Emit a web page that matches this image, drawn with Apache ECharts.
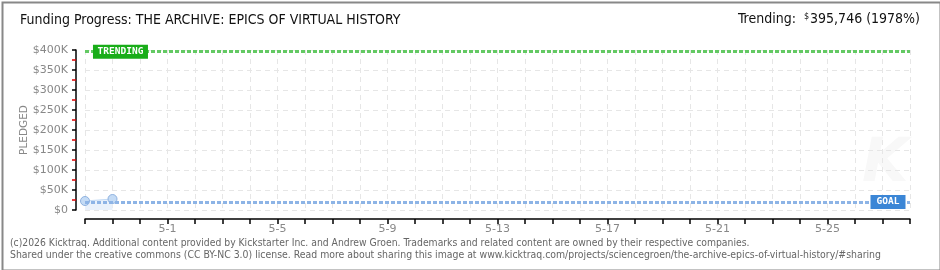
<!DOCTYPE html>
<html>
<head>
<meta charset="utf-8">
<script src="https://cdn.jsdelivr.net/npm/echarts@6/dist/echarts.min.js"></script>
<style>
html,body{margin:0;padding:0;background:#fff;}
#chart{width:940px;height:270px;}
</style>
</head>
<body>
<div id="chart"></div>
<script>
const categories = ['4-28','4-29','4-30','5-1','5-2','5-3','5-4','5-5','5-6','5-7','5-8','5-9','5-10','5-11','5-12','5-13','5-14','5-15','5-16','5-17','5-18','5-19','5-20','5-21','5-22','5-23','5-24','5-25','5-26','5-27','5-28'];
const labeledDays = ['5-1','5-5','5-9','5-13','5-17','5-21','5-25'];
const pledged = [22500, 27500];
const goal = 20000;
const trending = 395746;
const titleText = 'Funding Progress: THE ARCHIVE: EPICS OF VIRTUAL HISTORY';
const footer1 = '(c)2026 Kicktraq. Additional content provided by Kickstarter Inc. and Andrew Groen. Trademarks and related content are owned by their respective companies.';
const footer2 = 'Shared under the creative commons (CC BY-NC 3.0) license. Read more about sharing this image at www.kicktraq.com/projects/sciencegroen/the-archive-epics-of-virtual-history/#sharing';

const chart = echarts.init(document.getElementById('chart'), null, {renderer:'canvas'});
const pct = Math.floor(trending / goal * 100);
const fmtMoney = v => v.toLocaleString('en-US');
const COND = '"DejaVu Sans Condensed", "DejaVu Sans", sans-serif';

chart.setOption({
  animation: false,
  backgroundColor: '#fff',
  grid: {left: 85, right: 30, top: 50, bottom: 60, containLabel: false},
  xAxis: {
    type: 'value', min: 0, max: categories.length - 1, interval: 1,
    offset: 9,
    axisLine: {show: true, onZero: false, lineStyle: {color: '#000', width: 1.5}},
    axisTick: {show: true, length: 5, lineStyle: {color: '#000', width: 1.5}},
    axisLabel: {
      margin: 5, color: '#888', fontSize: 11, fontFamily: 'DejaVu Sans',
      formatter: v => labeledDays.includes(categories[v]) ? categories[v] : ''
    },
    splitLine: {show: true, lineStyle: {color: '#e6e6e6', type: [5, 4], width: 1}}
  },
  yAxis: {
    type: 'value', min: 0, max: 400000, interval: 50000,
    offset: 9,
    name: 'PLEDGED', nameLocation: 'middle', nameGap: 46, nameRotate: 90,
    nameMoveOverlap: false,
    nameTextStyle: {color: '#888', fontSize: 10.5, fontFamily: 'DejaVu Sans'},
    axisLine: {show: true, onZero: false, lineStyle: {color: '#000', width: 1.5}},
    axisTick: {show: true, length: 4, lineStyle: {color: '#000', width: 1.5}},
    minorTick: {show: true, splitNumber: 2, length: 4, lineStyle: {color: '#d00', width: 1.5}},
    axisLabel: {
      margin: 8, color: '#888', fontSize: 11, fontFamily: 'DejaVu Sans',
      formatter: v => v === 0 ? '$0' : '$' + (v / 1000) + 'K'
    },
    splitLine: {show: true, lineStyle: {color: '#e6e6e6', type: [5, 4], width: 1}}
  },
  series: [
    {
      type: 'line', data: [], z: 1,
      markLine: {
        silent: true, symbol: 'none', animation: false,
        label: {show: false},
        data: [
          {yAxis: goal, lineStyle: {color: '#8db4e6', width: 3, type: [4, 2]}},
          {yAxis: trending, lineStyle: {color: '#63c963', width: 3, type: [4, 2]}}
        ]
      },
      markPoint: {
        silent: true, animation: false,
        data: [
          {coord: [1.29, trending], symbol: 'rect', symbolSize: [55, 14],
           itemStyle: {color: '#19ad19'},
           label: {show: true, formatter: 'TRENDING', color: '#fff', fontSize: 9.5, fontWeight: 'bold', fontFamily: 'DejaVu Sans Mono'}},
          {coord: [29.2, goal], symbol: 'rect', symbolSize: [35, 14],
           itemStyle: {color: '#3b86d6'},
           label: {show: true, formatter: 'GOAL', color: '#fff', fontSize: 9.5, fontWeight: 'bold', fontFamily: 'DejaVu Sans Mono'}}
        ]
      }
    },
    {
      type: 'line', z: 3,
      data: pledged.map((v, i) => [i, v]),
      symbol: 'circle', symbolSize: 9,
      itemStyle: {color: '#c4dbf5', borderColor: '#8fb2e0', borderWidth: 1},
      lineStyle: {color: '#c4dbf5', width: 1},
      areaStyle: {color: '#e9f1fb', opacity: 1}
    }
  ],
  graphic: [
    {type: 'rect', left: 0, top: 0, z: 100, silent: true,
     shape: {x: 1, y: 1, width: 938, height: 268},
     style: {fill: 'none', stroke: '#888', lineWidth: 2}},
    {type: 'text', left: 20, top: 13,
     style: {text: titleText, fill: '#111', font: '14px ' + COND}},
    {type: 'text', right: 20, top: 12,
     style: {
       rich: {
         a: {fontSize: 14, fontFamily: COND, fill: '#111'},
         s: {fontSize: 9, fontFamily: COND, fill: '#111', verticalAlign: 'top', padding: [0, 1, 6, 0]}
       },
       text: '{a|Trending:  }{s|$}{a|' + fmtMoney(trending) + ' (' + pct + '%)}'
     }},
    {type: 'text', left: 10, top: 238,
     style: {text: footer1, fill: '#666', font: '10.3px ' + COND}},
    {type: 'text', left: 10, top: 250,
     style: {text: footer2, fill: '#666', font: '10.4px ' + COND}},
    {type: 'text', left: 862, top: 135, z: 0,
     style: {text: 'K', fill: '#f8f8f8', font: 'italic bold 60px "DejaVu Sans"'}}
  ]
});
</script>
</body>
</html>
